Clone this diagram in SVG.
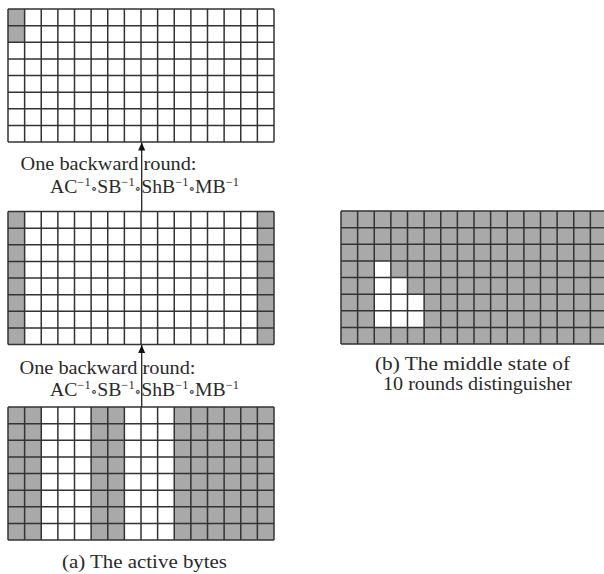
<svg xmlns="http://www.w3.org/2000/svg" width="604" height="574" viewBox="0 0 604 574">
<style>
.g{fill:#a9a9a9}
.w{fill:#ffffff}
.gl{fill:none;stroke:#333333;stroke-width:1.5}
.t{font-family:"Liberation Serif","DejaVu Serif",serif;font-size:19px;fill:#2a2a2a}
.s{font-size:12px}
.o{font-size:13px}
.c{stroke:#222;stroke-width:1.3;fill:none}
</style>
<defs>
<path id="grid" class="gl" d="M0 0V133M16.625 0V133M33.25 0V133M49.875 0V133M66.5 0V133M83.125 0V133M99.75 0V133M116.375 0V133M133 0V133M149.625 0V133M166.25 0V133M182.875 0V133M199.5 0V133M216.125 0V133M232.75 0V133M249.375 0V133M266 0V133M0 0H266M0 16.625H266M0 33.25H266M0 49.875H266M0 66.5H266M0 83.125H266M0 99.75H266M0 116.375H266M0 133H266"/>
<marker id="ah" viewBox="0 0 8 10" refX="8" refY="5" markerWidth="8" markerHeight="10" markerUnits="userSpaceOnUse" orient="auto">
<path d="M0 1.5L8 5L0 8.5Z" fill="#111"/>
</marker>
</defs>
<rect width="604" height="574" fill="#ffffff"/>

<g id="state-top" transform="translate(8,9)">
<rect class="w" width="266" height="133"/>
<rect class="g" x="0" y="0" width="16.625" height="33.25"/>
<use href="#grid"/>
</g>

<g id="state-middle" transform="translate(8,211.5)">
<rect class="w" width="266" height="133"/>
<rect class="g" x="0" y="0" width="16.625" height="133"/>
<rect class="g" x="249.375" y="0" width="16.625" height="133"/>
<use href="#grid"/>
</g>

<g id="state-bottom" transform="translate(8,407)">
<rect class="w" width="266" height="133"/>
<rect class="g" x="0" y="0" width="33.25" height="133"/>
<rect class="g" x="83.125" y="0" width="33.25" height="133"/>
<rect class="g" x="166.25" y="0" width="99.75" height="133"/>
<use href="#grid"/>
</g>

<g id="state-right" transform="translate(341,211)">
<rect class="g" width="266" height="133"/>
<rect class="w" x="33.25" y="49.875" width="16.625" height="66.5"/>
<rect class="w" x="49.875" y="66.5" width="16.625" height="49.875"/>
<rect class="w" x="66.5" y="83.125" width="16.625" height="33.25"/>
<use href="#grid"/>
</g>

<g id="connectors">
<line class="c" x1="141.7" y1="211.5" x2="141.7" y2="142.5" marker-end="url(#ah)"/>
<line class="c" x1="141.7" y1="407" x2="141.7" y2="345" marker-end="url(#ah)"/>
</g>

<g id="label-round-1">
<text class="t" x="20.5" y="170" textLength="176" lengthAdjust="spacingAndGlyphs">One backward round:</text>
<text class="t" x="50" y="193" textLength="189" lengthAdjust="spacingAndGlyphs">AC<tspan class="s" dy="-7">−1</tspan><tspan class="o" dy="7">∘</tspan>SB<tspan class="s" dy="-7">−1</tspan><tspan class="o" dy="7">∘</tspan>ShB<tspan class="s" dy="-7">−1</tspan><tspan class="o" dy="7">∘</tspan>MB<tspan class="s" dy="-7">−1</tspan></text>
</g>

<g id="label-round-2">
<text class="t" x="19.5" y="374" textLength="176" lengthAdjust="spacingAndGlyphs">One backward round:</text>
<text class="t" x="50" y="396" textLength="189" lengthAdjust="spacingAndGlyphs">AC<tspan class="s" dy="-7">−1</tspan><tspan class="o" dy="7">∘</tspan>SB<tspan class="s" dy="-7">−1</tspan><tspan class="o" dy="7">∘</tspan>ShB<tspan class="s" dy="-7">−1</tspan><tspan class="o" dy="7">∘</tspan>MB<tspan class="s" dy="-7">−1</tspan></text>
</g>

<g id="caption-a">
<text class="t" x="62" y="568" textLength="165" lengthAdjust="spacingAndGlyphs">(a) The active bytes</text>
</g>

<g id="caption-b">
<text class="t" x="375" y="370" textLength="195" lengthAdjust="spacingAndGlyphs">(b) The middle state of</text>
<text class="t" x="383" y="390" textLength="189" lengthAdjust="spacingAndGlyphs">10 rounds distinguisher</text>
</g>
</svg>
